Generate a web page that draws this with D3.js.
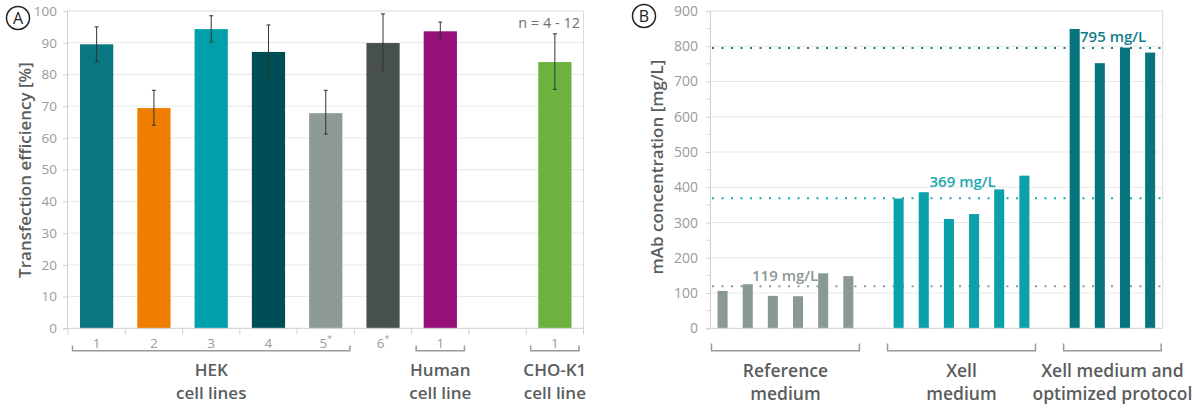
<!DOCTYPE html>
<html>
<head>
<meta charset="utf-8">
<script src="https://cdn.jsdelivr.net/npm/d3@7"></script>
<style>
  html, body { margin: 0; padding: 0; background: #ffffff; }
  svg { display: block; font-family: "Open Sans", Lato, sans-serif; }
</style>
</head>
<body>
<svg id="chart" width="1200" height="409"></svg>
<script>
// ---------- Panel A data ----------
const categoriesA = ["1", "2", "3", "4", "5", "6", "1", "", "1"];
const starsA      = ["", "", "", "", "*", "*", "", "", ""];
const valuesA     = [89.5, 69.4, 94.3, 87.1, 67.8, 89.9, 93.6, null, 83.9];
const errHighA    = [95.0, 75.0, 98.5, 95.6, 75.0, 99.1, 96.5, null, 92.8];
const errLowA     = [84.0, 64.0, 90.2, 78.6, 61.2, 81.2, 90.9, null, 75.3];
const colorsA     = ["#0a7680", "#ef7d00", "#00a0aa", "#004e55", "#8d9a96", "#495150", "#951078", null, "#6bb23f"];
const groupsA     = [
  { lines: ["HEK", "cell lines"], from: 0, to: 4 },
  { lines: ["Human", "cell line"], from: 6, to: 6 },
  { lines: ["CHO-K1", "cell line"], from: 8, to: 8 }
];
const ticksA = [0, 10, 20, 30, 40, 50, 60, 70, 80, 90, 100];

// ---------- Panel B data ----------
const referenceB = [106, 125, 92, 91, 156, 148];
const xellB      = [368, 386, 310, 324, 394, 433];
const optimizedB = [849, 752, 796, 782];
const meansB     = [119, 369, 795];
const meanLabelsB = ["119 mg/L", "369 mg/L", "795 mg/L"];
const groupNamesB = [["Reference", "medium"], ["Xell", "medium"], ["Xell medium and", "optimized protocol"]];
const colorsB    = ["#8a9994", "#0aa1ab", "#06757e"];
const meanColorsB = ["#8a9994", "#1ba6ae", "#0e7f88"];
const ticksB = [0, 100, 200, 300, 400, 500, 600, 700, 800, 900];

const svg = d3.select("#chart");
const grid = "#e9e9e9", axisCol = "#cfcfcf", tickText = "#9a9a9a", labelCol = "#5a5d5e";
const FONT = "'Open Sans', Lato, sans-serif";

// ======================= PANEL A =======================
(function () {
  const L = 67, R = 583.5, T = 11, B = 328.3;
  const y = d3.scaleLinear().domain([0, 100]).range([B, T]);
  const x = d3.scaleBand().domain(d3.range(categoriesA.length)).range([L + 1, R])
    .paddingInner(0.42).paddingOuter(0.21);
  const g = svg.append("g");

  g.selectAll(".grid").data(ticksA.filter(t => t > 0 && t < 100)).join("line")
    .attr("x1", L).attr("x2", R).attr("y1", d => y(d)).attr("y2", d => y(d))
    .attr("stroke", grid).attr("stroke-width", 1);
  g.append("line").attr("x1", L).attr("x2", R).attr("y1", y(100)).attr("y2", y(100)).attr("stroke", "#d9d9d9");
  g.append("line").attr("x1", R).attr("x2", R).attr("y1", y(100)).attr("y2", B).attr("stroke", "#d9d9d9");

  const yAxis = d3.axisLeft(y).tickValues(ticksA).tickSize(4).tickPadding(6);
  const ya = g.append("g").attr("transform", `translate(${L},0)`).call(yAxis);
  ya.select(".domain").attr("stroke", axisCol);
  ya.selectAll(".tick line").attr("stroke", axisCol);
  ya.selectAll(".tick text").attr("fill", tickText).style("font-size", "13.5px")
    .style("font-family", FONT);

  const idx = d3.range(categoriesA.length).filter(i => valuesA[i] != null);
  g.selectAll(".bar").data(idx).join("rect")
    .attr("x", i => x(i)).attr("width", x.bandwidth())
    .attr("y", i => y(valuesA[i])).attr("height", i => B - y(valuesA[i]))
    .attr("fill", i => colorsA[i]);

  const eb = g.selectAll(".err").data(idx).join("g");
  eb.append("line")
    .attr("x1", i => x(i) + x.bandwidth() / 2).attr("x2", i => x(i) + x.bandwidth() / 2)
    .attr("y1", i => y(errHighA[i])).attr("y2", i => y(errLowA[i]))
    .attr("stroke", "#333").attr("stroke-width", 1);
  [errHighA, errLowA].forEach(arr => {
    eb.append("line")
      .attr("x1", i => x(i) + x.bandwidth() / 2 - 2).attr("x2", i => x(i) + x.bandwidth() / 2 + 2)
      .attr("y1", i => y(arr[i])).attr("y2", i => y(arr[i]))
      .attr("stroke", "#333").attr("stroke-width", 1);
  });

  g.append("line").attr("x1", L).attr("x2", R).attr("y1", B).attr("y2", B).attr("stroke", axisCol);
  const step = x.step();
  const x0 = L + 1;
  g.selectAll(".xt").data(d3.range(categoriesA.length + 1)).join("line")
    .attr("x1", i => x0 + i * step).attr("x2", i => x0 + i * step)
    .attr("y1", B).attr("y2", B + 6).attr("stroke", axisCol);

  const lab = g.selectAll(".cl").data(d3.range(categoriesA.length)).join("text")
    .attr("x", i => x(i) + x.bandwidth() / 2).attr("y", 348)
    .attr("text-anchor", "middle").attr("fill", tickText)
    .style("font-size", "13.5px");
  lab.append("tspan").text(i => categoriesA[i]);
  lab.append("tspan").text(i => starsA[i]).attr("dy", -6).style("font-size", "9px");

  groupsA.forEach(gr => {
    const a = x0 + gr.from * step + 4.5, b = x0 + (gr.to + 1) * step - 4.5;
    g.append("path").attr("d", `M${a},345.5 V350.7 H${b} V345.5`)
      .attr("fill", "none").attr("stroke", "#9a9a9a").attr("stroke-width", 1.5);
    const cx = (x0 + gr.from * step + x0 + (gr.to + 1) * step) / 2;
    gr.lines.forEach((t, k) => {
      g.append("text").attr("x", cx).attr("y", 375.5 + k * 23).attr("text-anchor", "middle")
        .attr("fill", labelCol).style("font-size", "17px").style("font-weight", 600).text(t);
    });
  });

  g.append("text").attr("x", 580).attr("y", 28).attr("text-anchor", "end")
    .attr("fill", "#707070").style("font-size", "14.5px").text("n = 4 - 12");

  g.append("text").attr("transform", `translate(31,170) rotate(-90)`).attr("text-anchor", "middle")
    .attr("fill", labelCol).style("font-size", "17px").style("font-weight", 600)
    .text("Transfection efficiency [%]");

  g.append("circle").attr("cx", 18).attr("cy", 18).attr("r", 11.5).attr("fill", "none")
    .attr("stroke", "#222").attr("stroke-width", 1.5);
  g.append("text").attr("x", 18).attr("y", 24).attr("text-anchor", "middle").attr("fill", "#222")
    .style("font-size", "16px").text("A");
})();

// ======================= PANEL B =======================
(function () {
  const L = 710, R = 1162.7, T = 11, B = 328.3;
  const y = d3.scaleLinear().domain([0, 900]).range([B, T]);
  const groups = [referenceB, xellB, optimizedB];
  const slots = [];
  let s = 0;
  groups.forEach((arr, gi) => {
    arr.forEach((v, k) => slots.push({ slot: s++, value: v, group: gi }));
    if (gi < groups.length - 1) s++;
  });
  const nSlots = s;
  const x = d3.scaleBand().domain(d3.range(nSlots)).range([L, R]).paddingInner(0.6).paddingOuter(0.3);
  const g = svg.append("g");

  g.selectAll(".grid").data(ticksB.filter(t => t > 0 && t < 900)).join("line")
    .attr("x1", L).attr("x2", R).attr("y1", d => y(d)).attr("y2", d => y(d))
    .attr("stroke", grid).attr("stroke-width", 1);
  g.append("line").attr("x1", L).attr("x2", R).attr("y1", y(900)).attr("y2", y(900)).attr("stroke", "#d9d9d9");
  g.append("line").attr("x1", R).attr("x2", R).attr("y1", y(900)).attr("y2", B).attr("stroke", "#d9d9d9");

  g.selectAll(".minor").data(d3.range(50, 900, 100)).join("line")
    .attr("x1", L - 3).attr("x2", L).attr("y1", d => y(d)).attr("y2", d => y(d)).attr("stroke", axisCol);

  const yAxis = d3.axisLeft(y).tickValues(ticksB).tickSize(4).tickPadding(8);
  const ya = g.append("g").attr("transform", `translate(${L},0)`).call(yAxis);
  ya.select(".domain").attr("stroke", axisCol);
  ya.selectAll(".tick line").attr("stroke", axisCol);
  ya.selectAll(".tick text").attr("fill", tickText).style("font-size", "14px")
    .style("font-family", FONT);

  meansB.forEach((m, i) => {
    g.append("line").attr("x1", L + 2).attr("x2", R).attr("y1", y(m)).attr("y2", y(m))
      .attr("stroke", meanColorsB[i]).attr("stroke-width", 2)
      .attr("stroke-dasharray", "2,7.5");
  });

  g.selectAll(".bar").data(slots).join("rect")
    .attr("x", d => x(d.slot)).attr("width", x.bandwidth())
    .attr("y", d => y(d.value)).attr("height", d => B - y(d.value))
    .attr("fill", d => colorsB[d.group]);

  g.append("line").attr("x1", L).attr("x2", R).attr("y1", B).attr("y2", B).attr("stroke", axisCol);

  const labelPos = [[752, y(meansB[0]) - 5.5], [929.5, y(meansB[1]) - 11.5], [1080, y(meansB[2]) - 6.5]];
  meanLabelsB.forEach((t, i) => {
    g.append("text").attr("x", labelPos[i][0]).attr("y", labelPos[i][1])
      .attr("fill", meanColorsB[i]).style("font-size", "15px").style("font-weight", 600).text(t);
  });

  groups.forEach((arr, gi) => {
    const first = slots.filter(d => d.group === gi)[0].slot;
    const last = slots.filter(d => d.group === gi).slice(-1)[0].slot;
    const a = x(first) - x.step() * x.paddingOuter() + 1.5;
    const b = x(last) + x.bandwidth() + x.step() * x.paddingOuter() - 1.5;
    g.append("path").attr("d", `M${a},343.5 V350.7 H${b} V343.5`)
      .attr("fill", "none").attr("stroke", "#9a9a9a").attr("stroke-width", 1.5);
    groupNamesB[gi].forEach((t, k) => {
      g.append("text").attr("x", (a + b) / 2).attr("y", 376.7 + k * 23.5).attr("text-anchor", "middle")
        .attr("fill", labelCol).style("font-size", "17.5px").style("font-weight", 600).text(t);
    });
  });

  g.append("text").attr("transform", `translate(663,167) rotate(-90)`).attr("text-anchor", "middle")
    .attr("fill", labelCol).style("font-size", "17px").style("font-weight", 600)
    .text("mAb concentration [mg/L]");

  g.append("circle").attr("cx", 644).attr("cy", 16).attr("r", 11.5).attr("fill", "none")
    .attr("stroke", "#222").attr("stroke-width", 1.5);
  g.append("text").attr("x", 644).attr("y", 22).attr("text-anchor", "middle").attr("fill", "#222")
    .style("font-size", "16px").text("B");
})();
</script>
</body>
</html>
